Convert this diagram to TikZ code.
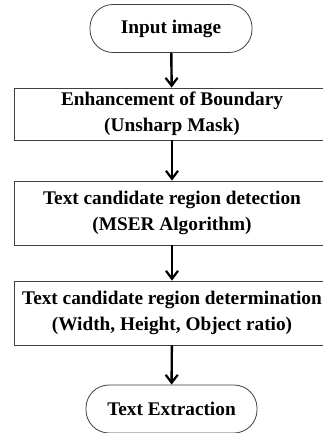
\documentclass[tikz,border=0pt]{standalone}
\usepackage{fontspec}
\setmainfont{Liberation Serif}
\usetikzlibrary{arrows.meta}
\begin{document}
\begin{tikzpicture}[x=1pt,y=-1pt,
  txt/.style={font=\bfseries\fontsize{19.3}{25.5}\selectfont, align=center},
  term/.style={draw=black!75, line width=0.8pt, rounded corners=23pt, minimum width=162pt, minimum height=48pt, txt},
  procbox/.style={draw=black!75, line width=0.8pt, minimum width=316pt, txt},
  flow/.style={line width=2.4pt, -{Straight Barb[length=8pt,width=12pt,line width=2.2pt]}}]
\useasboundingbox (0,0) rectangle (323,433);
\clip (0,0) rectangle (323,433);
\node[term] (in) at (171,28.5) {Input image};
\node[procbox, minimum height=52pt] (b1) at (172,114) {Enhancement of Boundary\\(Unsharp Mask)};
\node[procbox, minimum height=64pt] (b2) at (172,213) {Text candidate region detection\\(MSER Algorithm)};
\node[procbox, minimum height=64pt] (b3) at (172,313) {Text candidate region determination\\(Width, Height, Object ratio)};
\node[term, minimum width=171pt] (out) at (171.5,409) {Text Extraction};
\draw[flow] (in) -- (b1);
\draw[flow] (b1) -- (b2);
\draw[flow] (b2) -- (b3);
\draw[flow] (b3) -- (out);
\end{tikzpicture}
\end{document}
